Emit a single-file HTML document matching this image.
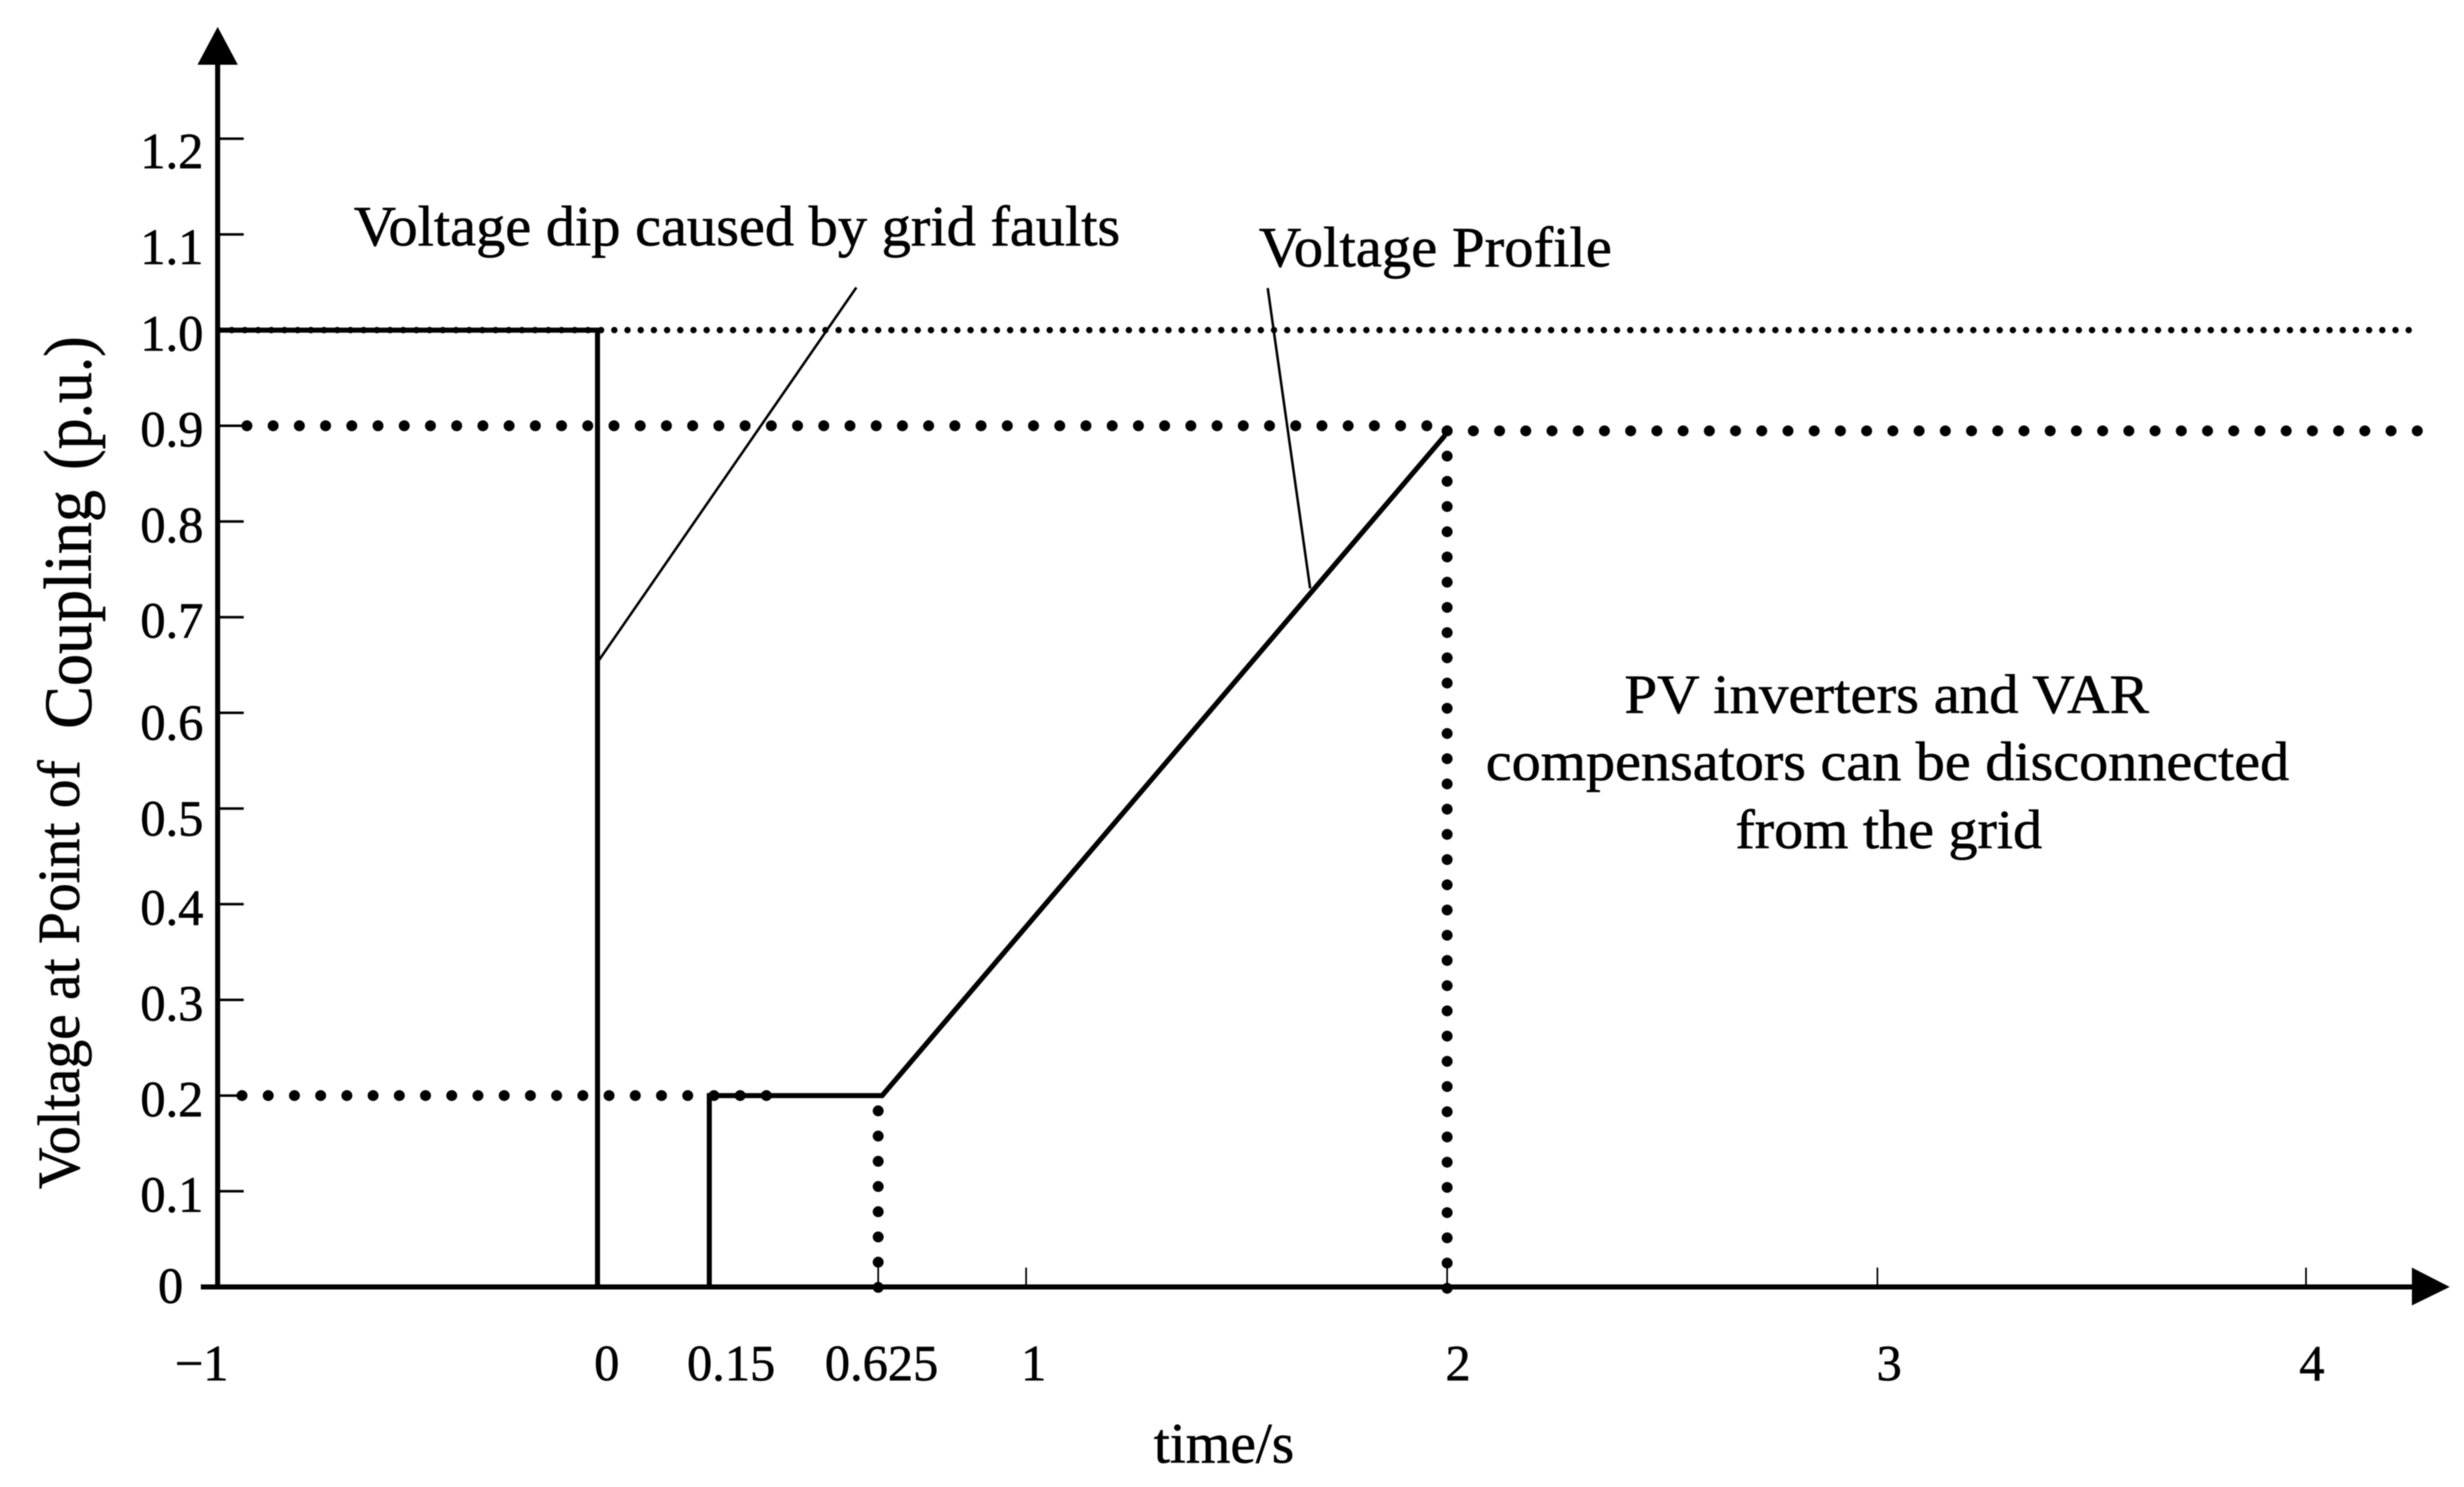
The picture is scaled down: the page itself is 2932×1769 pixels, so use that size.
<!DOCTYPE html>
<html lang="en">
<head>
<meta charset="utf-8">
<title>Voltage at Point of Coupling vs time</title>
<style>
html,body{margin:0;padding:0;background:#fff;}
svg{display:block;filter:blur(0.6px);}
text{font-family:"Liberation Serif","Times New Roman",serif;fill:#000;stroke:#000;stroke-width:0.7px;}
</style>
</head>
<body>
<svg id="chart" xmlns="http://www.w3.org/2000/svg" width="2932" height="1769" viewBox="0 0 2932 1769">
  <rect x="0" y="0" width="2932" height="1769" fill="#ffffff"/>
  <g id="refs"></g>
  <g id="axes"></g>
  <g id="series"></g>
  <g id="labels"></g>

  <line x1="1019" y1="342" x2="713" y2="785" stroke="#000" stroke-width="3"/>
  <line x1="1508.5" y1="342.7" x2="1559" y2="700" stroke="#000" stroke-width="3"/>

  <text x="421" y="292" font-size="68" textLength="912" lengthAdjust="spacingAndGlyphs">Voltage dip caused by grid faults</text>
  <text x="1498" y="317" font-size="68" textLength="420" lengthAdjust="spacingAndGlyphs">Voltage Profile</text>
  <text x="1933" y="848" font-size="66" textLength="624" lengthAdjust="spacingAndGlyphs">PV inverters and VAR</text>
  <text x="1768" y="928" font-size="66" textLength="956" lengthAdjust="spacingAndGlyphs">compensators can be disconnected</text>
  <text x="2065" y="1009" font-size="66" textLength="365" lengthAdjust="spacingAndGlyphs">from the grid</text>

  <text transform="translate(94 1414.5) rotate(-90)" font-size="71" textLength="510" lengthAdjust="spacingAndGlyphs">Voltage at Point of</text>
  <text transform="translate(108 867) rotate(-90)" font-size="80" textLength="284" lengthAdjust="spacingAndGlyphs">Coupling</text>
  <text transform="translate(108 559) rotate(-90)" font-size="80" textLength="159" lengthAdjust="spacingAndGlyphs">(p.u.)</text>
  <text x="1373" y="1740" font-size="68" textLength="167" lengthAdjust="spacingAndGlyphs">time/s</text>
</svg>
<script>
// ---- Data ----
const yTickValues = [0, 0.1, 0.2, 0.3, 0.4, 0.5, 0.6, 0.7, 0.8, 0.9, 1.0, 1.1, 1.2];
const yTickLabels = ["0", "0.1", "0.2", "0.3", "0.4", "0.5", "0.6", "0.7", "0.8", "0.9", "1.0", "1.1", "1.2"];
const xTickValues = [-1, 0, 0.15, 0.625, 1, 2, 3, 4];
const xTickLabels = ["\u22121", "0", "0.15", "0.625", "1", "2", "3", "4"];

const profileTimes = [-1, 0, 0, 0.15, 0.15, 0.635, 1.995];
const profileVoltages = [1.0, 1.0, 0, 0, 0.2, 0.2, 0.89];

const hRefVoltages = [1.0, 0.9, 0.8947, 0.2];
const hRefStarts = [-1, -0.925, 2, -0.938];
const hRefEnds = [4.26, 1.96, 4.26, 0.32];
const vRefTimes = [0.625, 2];
const vRefTops = [0.184, 0.8947];

// ---- Axis functions (non-uniform, piecewise time axis) ----
const xStops = [-1, 0, 0.15, 0.625, 1, 2, 3, 4];
const xPixelStops = [260, 711, 844, 1045, 1221, 1722, 2234, 2744];
function xScale(t) {
  let i = 0;
  while (i < xStops.length - 2 && t > xStops[i + 1]) i++;
  const f = (t - xStops[i]) / (xStops[i + 1] - xStops[i]);
  return xPixelStops[i] + f * (xPixelStops[i + 1] - xPixelStops[i]);
}
function yScale(v) {
  return 1531 - 1138.3 * v;
}

const NS = "http://www.w3.org/2000/svg";
function make(tag, parent, attrs) {
  const el = document.createElementNS(NS, tag);
  for (const k in attrs) el.setAttribute(k, attrs[k]);
  parent.appendChild(el);
  return el;
}
const refs = document.getElementById("refs");
const axes = document.getElementById("axes");
const series = document.getElementById("series");
const labels = document.getElementById("labels");

// ---- Dotted reference lines ----
hRefVoltages.forEach(function (v, i) {
  const dense = v >= 1;
  const el = make("line", refs, {
    x1: xScale(hRefStarts[i]), x2: xScale(hRefEnds[i]), y1: yScale(v), y2: yScale(v),
    stroke: "#000", "stroke-width": dense ? 7.7 : 13,
    "stroke-linecap": "round", "stroke-dasharray": dense ? "0 15.7" : "0 31.2"
  });
  
  
});
vRefTimes.forEach(function (t, i) {
  const el = make("line", refs, {
    x1: xScale(t), x2: xScale(t), y1: yScale(vRefTops[i]), y2: yScale(0) + 2,
    stroke: "#000", "stroke-width": 13,
    "stroke-linecap": "round", "stroke-dasharray": "0 30"
  });
  
  
});

// ---- Axes ----
const xAxisLine = make("line", axes, { x1: 239, x2: 2875, y1: yScale(0), y2: yScale(0), stroke: "#000", "stroke-width": 6 });


const xArrow = make("polygon", axes, { points: "2870,1508 2915,1531 2870,1553", fill: "#000" });


const yAxisLine = make("line", axes, { x1: 259, x2: 259, y1: 70, y2: 1534, stroke: "#000", "stroke-width": 6 });


const yArrow = make("polygon", axes, { points: "259,32 235,77 283,77", fill: "#000" });



yTickValues.forEach(function (v) {
  if (v === 0) return;
  const tick = make("line", axes, { x1: 259, x2: 290, y1: yScale(v), y2: yScale(v), stroke: "#000", "stroke-width": 3 });
  
  
});
xTickValues.forEach(function (t) {
  if (t < 0.5) return;
  const tick = make("line", axes, { x1: xScale(t), x2: xScale(t), y1: yScale(0) - 23, y2: yScale(0), stroke: "#000", "stroke-width": 2 });
  
  
});

// ---- Voltage profile ----
const profilePoints = profileTimes.map(function (t, i) {
  return xScale(t) + "," + yScale(profileVoltages[i]);
}).join(" ");
const profile = make("polyline", series, {
  points: profilePoints, fill: "none", stroke: "#000", "stroke-width": 6, "stroke-linejoin": "miter"
});



// ---- Tick labels ----
function yLabelOffset(v) {
  if (v > 1.05) return 35;
  if (v > 0.45 && v < 0.65) return 32;
  if (v === 0) return 19;
  return 24.5;
}
yTickValues.forEach(function (v, i) {
  const rightEdge = v === 0 ? 218 : 242;
  const label = make("text", labels, { x: rightEdge, y: yScale(v) + yLabelOffset(v), "font-size": 60, "text-anchor": "end" });
  label.textContent = yTickLabels[i];
  
  
});
function xLabelNudge(t) {
  if (t === -1) return -20;
  if (t === 0) return 11;
  if (t === 0.15) return 26;
  if (t === 0.625) return 4;
  if (t === 1) return 9;
  if (t === 2) return 13;
  if (t === 3) return 14;
  return 7;
}
xTickValues.forEach(function (t, i) {
  const label = make("text", labels, { x: xScale(t) + xLabelNudge(t), y: 1642, "font-size": 60, "text-anchor": "middle" });
  label.textContent = xTickLabels[i];
  
  
});
</script>
</body>
</html>
